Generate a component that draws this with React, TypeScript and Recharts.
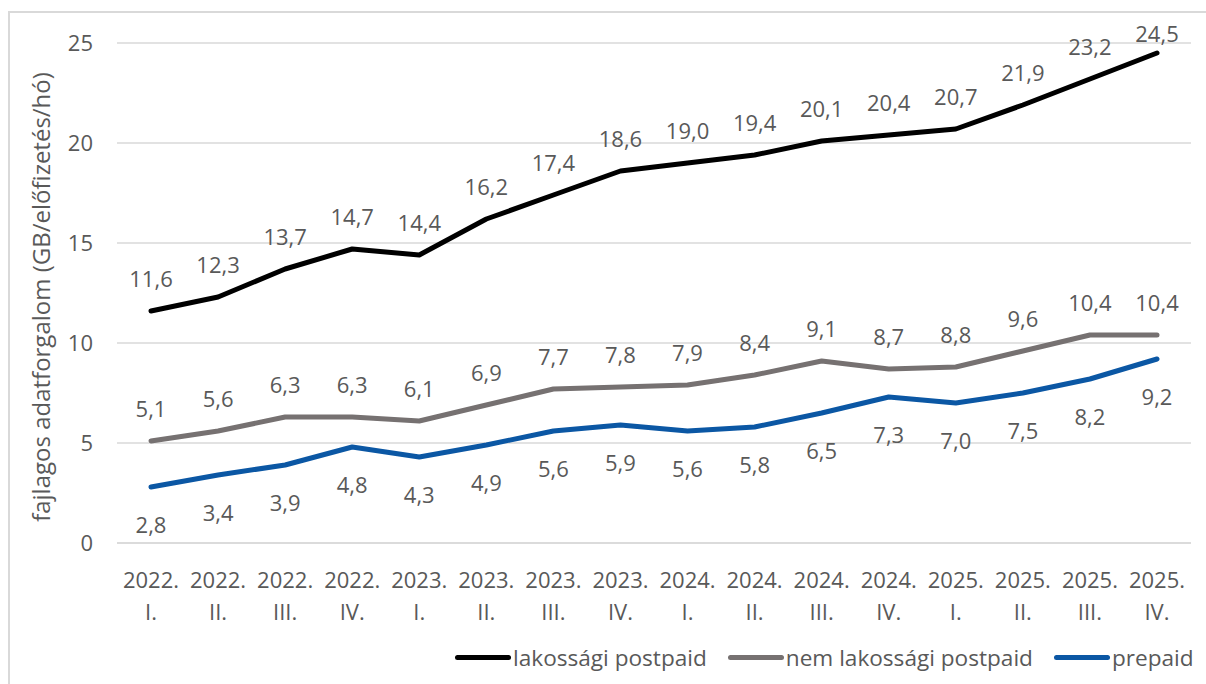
import { LineChart, Line, XAxis, YAxis, CartesianGrid, LabelList } from "recharts";

const periods = [
  "2022. I.", "2022. II.", "2022. III.", "2022. IV.",
  "2023. I.", "2023. II.", "2023. III.", "2023. IV.",
  "2024. I.", "2024. II.", "2024. III.", "2024. IV.",
  "2025. I.", "2025. II.", "2025. III.", "2025. IV.",
];
const lakossagi = [11.6, 12.3, 13.7, 14.7, 14.4, 16.2, 17.4, 18.6, 19.0, 19.4, 20.1, 20.4, 20.7, 21.9, 23.2, 24.5];
const nemLakossagi = [5.1, 5.6, 6.3, 6.3, 6.1, 6.9, 7.7, 7.8, 7.9, 8.4, 9.1, 8.7, 8.8, 9.6, 10.4, 10.4];
const prepaid = [2.8, 3.4, 3.9, 4.8, 4.3, 4.9, 5.6, 5.9, 5.6, 5.8, 6.5, 7.3, 7.0, 7.5, 8.2, 9.2];
const yTicks = [0, 5, 10, 15, 20, 25];

const data = periods.map((p, i) => ({
  period: p,
  lak: lakossagi[i],
  nem: nemLakossagi[i],
  pre: prepaid[i],
}));

const TEXT = "#595959";
const GRID = "#d9d9d9";
const FONT = "'Open Sans', 'Noto Sans', sans-serif";

const series = [
  { key: "lak", name: "lakossági postpaid", color: "#000000", below: false },
  { key: "nem", name: "nem lakossági postpaid", color: "#767171", below: false },
  { key: "pre", name: "prepaid", color: "#0b57a4", below: true },
];

const fmt = (v: number) => v.toFixed(1).replace(".", ",");

function makeLabel(below: boolean) {
  return (props: any) => {
    const { x, y, value } = props;
    const ly = below ? y + 37 : Math.max(y - 33, 20);
    return (
      <text
        x={x}
        y={ly}
        textAnchor="middle"
        dominantBaseline="central"
        fill={TEXT}
        fontSize={22}
        fontFamily={FONT}
      >
        {fmt(value)}
      </text>
    );
  };
}

function PeriodTick(props: any) {
  const { x, y, payload } = props;
  const [year, q] = String(payload.value).split(" ");
  return (
    <g>
      <text x={x} y={y + 36} textAnchor="middle" dominantBaseline="central" fill={TEXT} fontSize={22} fontFamily={FONT}>
        {year}
      </text>
      <text x={x} y={y + 68} textAnchor="middle" dominantBaseline="central" fill={TEXT} fontSize={22} fontFamily={FONT}>
        {q}
      </text>
    </g>
  );
}

function YTitle(props: any) {
  const vb = props.viewBox || { x: 0, y: 30, height: 500 };
  const cx = 30;
  const cy = vb.y + vb.height / 2 + 4;
  return (
    <text
      x={cx}
      y={cy}
      transform={`rotate(-90, ${cx}, ${cy})`}
      textAnchor="middle"
      dominantBaseline="central"
      fill={TEXT}
      fontSize={24}
      fontFamily={FONT}
    >
      fajlagos adatforgalom (GB/előfizetés/hó)
    </text>
  );
}

export default function App() {
  return (
    <div style={{ position: "fixed", left: 0, top: 0, width: 1206, height: 684, background: "#fff", overflow: "hidden" }}>
      <div
        style={{
          position: "absolute",
          left: 8,
          top: 11,
          width: 1400,
          height: 900,
          borderTop: `2px solid ${GRID}`,
          borderLeft: `2px solid ${GRID}`,
        }}
      />
      <div style={{ position: "absolute", left: 10, top: 13 }}>
        <LineChart width={1196} height={671} data={data} margin={{ top: 30, right: 15, left: 0, bottom: 0 }}>
          <CartesianGrid vertical={false} stroke={GRID} strokeWidth={1.5} />
          <XAxis
            dataKey="period"
            interval={0}
            height={141}
            padding={{ left: 34, right: 34 }}
            tickLine={false}
            tickSize={0}
            tickMargin={0}
            axisLine={{ stroke: GRID, strokeWidth: 1.5 }}
            tick={<PeriodTick />}
          />
          <YAxis
            width={107}
            domain={[0, 25]}
            ticks={yTicks}
            axisLine={false}
            tickLine={false}
            tickSize={0}
            tickMargin={24}
            tick={{ fill: TEXT, fontSize: 22, fontFamily: FONT }}
            label={<YTitle />}
          />
          {series.map((s) => (
            <Line
              key={s.key}
              dataKey={s.key}
              name={s.name}
              stroke={s.color}
              strokeWidth={5}
              strokeLinejoin="round"
              strokeLinecap="round"
              dot={false}
              activeDot={false}
              isAnimationActive={false}
            >
              <LabelList dataKey={s.key} content={makeLabel(s.below)} />
            </Line>
          ))}
        </LineChart>
      </div>
      <div
        style={{
          position: "absolute",
          left: 455,
          top: 640,
          height: 34,
          display: "flex",
          alignItems: "center",
          gap: 21,
          fontFamily: FONT,
          fontSize: 22.6,
          color: TEXT,
          whiteSpace: "nowrap",
        }}
      >
        {series.map((s) => (
          <div key={s.key} style={{ display: "flex", alignItems: "center", gap: 2 }}>
            <div style={{ width: 56, height: 5, borderRadius: 3, background: s.color }} />
            <span>{s.name}</span>
          </div>
        ))}
      </div>
    </div>
  );
}
